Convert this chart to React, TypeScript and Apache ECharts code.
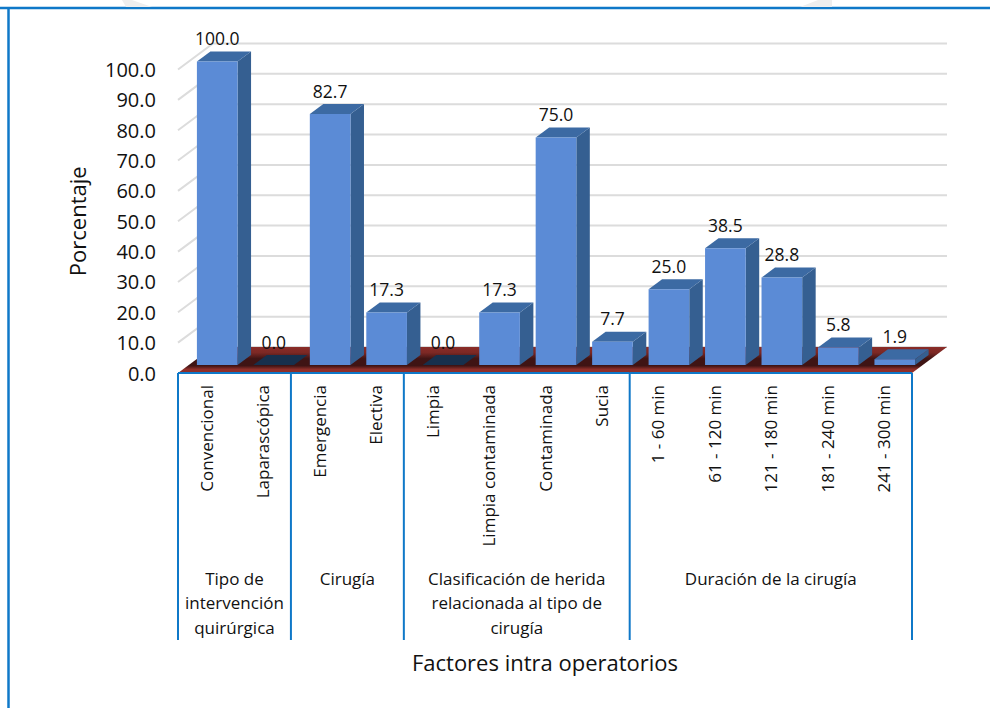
import React, { useEffect, useRef } from "react";
import * as echarts from "echarts";

const categories = [
  "Convencional", "Laparascópica", "Emergencia", "Electiva", "Limpia",
  "Limpia contaminada", "Contaminada", "Sucia", "1 - 60 min", "61 - 120 min",
  "121 - 180 min", "181 - 240 min", "241 - 300 min",
];
const values = [100.0, 0.0, 82.7, 17.3, 0.0, 17.3, 75.0, 7.7, 25.0, 38.5, 28.8, 5.8, 1.9];
const ticks = [0, 10, 20, 30, 40, 50, 60, 70, 80, 90, 100];
const groupNames = [
  "Tipo de\nintervención\nquirúrgica",
  "Cirugía",
  "Clasificación de herida\nrelacionada al tipo de\ncirugía",
  "Duración de la cirugía",
];
const groupSizes = [2, 2, 4, 5];

const FONT = "'Open Sans', sans-serif";
const BLUE = "#0f78c8";
const DX = 35, DY = -26; // floor depth
const BX = 11, BY = -8; // front face offset of a bar
const SX = 13.5, SY = -10; // bar depth
const BAR = 0.72;

export default function App() {
  const ref = useRef<HTMLDivElement>(null);
  useEffect(() => {
    document.body.style.margin = "0";
    const chart = echarts.init(ref.current!, null, { renderer: "svg" });

    let start = 0;
    const groupData = groupSizes.map((n, i) => {
      const d = [start, n, i];
      start += n;
      return d;
    });

    const gridSeries = {
      type: "custom",
      coordinateSystem: "cartesian2d",
      silent: true,
      z: 1,
      data: ticks.map((t) => [t]),
      renderItem: (_p: any, api: any) => {
        const t = api.value(0);
        const a = api.coord([0, t]);
        const size = api.size([1, 0]);
        const left = a[0] - size[0] / 2;
        const right = left + size[0] * categories.length;
        const pts = [[left, a[1]], [left + DX, a[1] + DY], [right + DX, a[1] + DY]];
        return {
          type: "polyline",
          silent: true,
          shape: { points: t === 0 ? pts.slice(1) : pts },
          style: { stroke: "#dcdcdc", lineWidth: 2, fill: "none" },
        };
      },
    };

    const floorSeries = {
      type: "custom",
      coordinateSystem: "cartesian2d",
      silent: true,
      z: 2,
      data: [[0]],
      renderItem: (_p: any, api: any) => {
        const a = api.coord([0, 0]);
        const size = api.size([1, 0]);
        const left = a[0] - size[0] / 2;
        const right = left + size[0] * categories.length;
        const y = a[1];
        return {
          type: "polygon",
          silent: true,
          shape: { points: [[left, y], [right, y], [right + DX, y + DY], [left + DX, y + DY]] },
          style: {
            fill: new echarts.graphic.LinearGradient(0, 0, 0, 1, [
              { offset: 0, color: "#8a2c28" },
              { offset: 0.22, color: "#7c2824" },
              { offset: 0.45, color: "#3f1414" },
              { offset: 0.72, color: "#3f1414" },
              { offset: 0.86, color: "#8f2f2a" },
              { offset: 1, color: "#8f2f2a" },
            ]),
          },
        };
      },
    };

    const barSeries = {
      type: "custom",
      coordinateSystem: "cartesian2d",
      silent: true,
      z: 3,
      encode: { x: 0, y: 1 },
      data: values.map((v, i) => [i, v]),
      renderItem: (_p: any, api: any) => {
        const top = api.coord([api.value(0), api.value(1)]);
        const base = api.coord([api.value(0), 0]);
        const w = api.size([1, 0])[0] * BAR;
        const x0 = top[0] - w / 2 + BX;
        const x1 = x0 + w;
        const yT = top[1] + BY;
        const yB = base[1] + BY;
        const v = api.value(1);
        const children: any[] = [];
        if (v === 0) {
          children.push({
            type: "polygon",
            shape: { points: [[x0, yB], [x1, yB], [x1 + SX, yB + SY], [x0 + SX, yB + SY]] },
            style: { fill: "#17304d" },
          });
        } else {
          children.push(
            {
              type: "polygon",
              shape: { points: [[x1, yT], [x1 + SX, yT + SY], [x1 + SX, yB + SY], [x1, yB]] },
              style: { fill: "#355f91" },
            },
            {
              type: "polygon",
              shape: { points: [[x0, yT], [x1, yT], [x1 + SX, yT + SY], [x0 + SX, yT + SY]] },
              style: { fill: "#3c6aa3" },
            },
            {
              type: "rect",
              shape: { x: x0, y: yT, width: w, height: yB - yT },
              style: { fill: "#5b8bd6" },
            },
          );
        }
        children.push({
          type: "text",
          style: {
            text: v.toFixed(1),
            x: (x0 + x1) / 2,
            y: yT + SY - 13.5,
            align: "center",
            verticalAlign: "middle",
            font: `17.5px ${FONT}`,
            fill: "#111",
          },
        });
        return { type: "group", children };
      },
    };

    const groupSeries = {
      type: "custom",
      coordinateSystem: "cartesian2d",
      silent: true,
      clip: false,
      z: 4,
      data: groupData,
      renderItem: (_p: any, api: any) => {
        const s = api.value(0);
        const n = api.value(1);
        const i = api.value(2);
        const a = api.coord([s, 0]);
        const size = api.size([1, 0])[0];
        const x0 = a[0] - size / 2;
        const x1 = x0 + size * n;
        const y = a[1];
        const children: any[] = [
          { type: "line", shape: { x1: x1, y1: y, x2: x1, y2: 640 }, style: { stroke: BLUE, lineWidth: 2 } },
          { type: "line", shape: { x1: x0, y1: y, x2: x1, y2: y }, style: { stroke: BLUE, lineWidth: 2 } },
          {
            type: "text",
            style: {
              text: groupNames[i],
              x: (x0 + x1) / 2,
              y: 566,
              align: "center",
              verticalAlign: "top",
              font: `17px ${FONT}`,
              lineHeight: 24.5,
              fill: "#111",
            },
          },
        ];
        if (i === 0) {
          children.push({ type: "line", shape: { x1: x0, y1: y, x2: x0, y2: 640 }, style: { stroke: BLUE, lineWidth: 2 } });
        }
        return { type: "group", children };
      },
    };

    chart.setOption({
      animation: false,
      backgroundColor: "#ffffff",
      textStyle: { fontFamily: FONT },
      grid: { left: 178, right: 78, top: 69.5, bottom: 335 },
      xAxis: {
        type: "category",
        data: categories,
        name: "Factores intra operatorios",
        nameLocation: "middle",
        nameGap: 278,
        nameTextStyle: { fontSize: 22, color: "#111", fontFamily: FONT },
        axisTick: { show: false },
        axisLine: { show: false },
        axisLabel: {
          rotate: 90,
          interval: 0,
          margin: 12,
          fontSize: 17,
          color: "#111",
          fontFamily: FONT,
        },
      },
      yAxis: {
        type: "value",
        min: 0,
        max: 100,
        interval: 10,
        name: "Porcentaje",
        nameLocation: "middle",
        nameGap: 90,
        nameTextStyle: { fontSize: 22, color: "#111", fontFamily: FONT },
        axisLine: { show: false },
        axisTick: { show: false },
        splitLine: { show: false },
        axisLabel: {
          margin: 22,
          fontSize: 20,
          color: "#111",
          fontFamily: FONT,
          formatter: (v: number) => v.toFixed(1),
        },
      },
      graphic: [
        { type: "line", shape: { x1: 0, y1: 8, x2: 990, y2: 8 }, style: { stroke: BLUE, lineWidth: 2.5 }, silent: true },
        { type: "line", shape: { x1: 8.5, y1: 8, x2: 8.5, y2: 708 }, style: { stroke: BLUE, lineWidth: 2.5 }, silent: true },
        { type: "polygon", shape: { points: [[122, 0], [132, 0], [152, 7], [126, 7]] }, style: { fill: "#eeeeee" }, silent: true },
        { type: "polygon", shape: { points: [[818, 0], [832, 0], [832, 7], [800, 7]] }, style: { fill: "#eeeeee" }, silent: true },
      ],
      series: [gridSeries, floorSeries, barSeries, groupSeries],
    });
    return () => chart.dispose();
  }, []);
  return <div ref={ref} style={{ position: "absolute", left: 0, top: 0, width: 990, height: 708 }} />;
}
